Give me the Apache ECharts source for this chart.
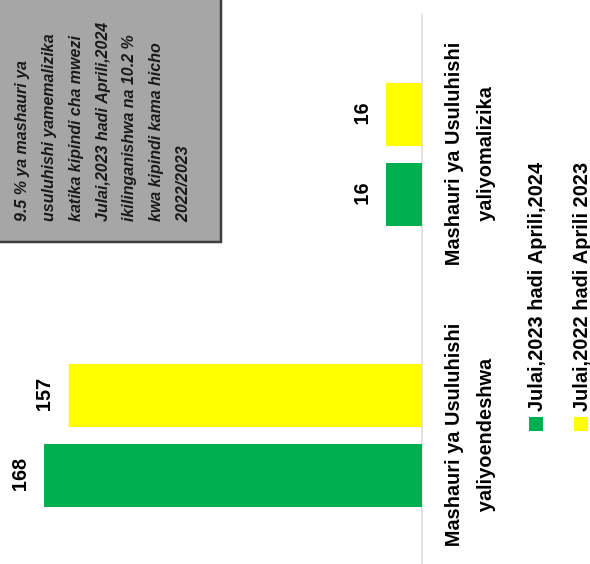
<!DOCTYPE html>
<html>
<head>
<meta charset="utf-8">
<script src="https://cdn.jsdelivr.net/npm/echarts@6/dist/echarts.min.js"></script>
<style>
html,body{margin:0;padding:0;background:#fff;overflow:hidden;width:590px;height:564px;}
#c{position:absolute;left:0;top:0;width:564px;height:590px;transform-origin:0 0;transform:translate(0,564px) rotate(-90deg);}
</style>
</head>
<body>
<div id="c"></div>
<script>
const categories = ["Mashauri ya Usuluhishi\nyaliyoendeshwa", "Mashauri ya Usuluhishi\nyaliyomalizika"];
const seriesNames = ["Julai,2023 hadi Aprili,2024", "Julai,2022 hadi Aprili 2023"];
const values2024 = [168, 16];
const values2023 = [157, 16];
const noteLines = [
  "9.5 % ya mashauri ya",
  "usuluhishi yamemalizika",
  "katika kipindi cha mwezi",
  "Julai,2023 hadi Aprili,2024",
  "ikilinganishwa na 10.2 %",
  "kwa kipindi kama hicho",
  "2022/2023"
];

const FONT = '"Liberation Sans", Arial, sans-serif';
const chart = echarts.init(document.getElementById('c'), null, {renderer: 'canvas'});
const labelStyle = {show: true, position: 'top', distance: 14, fontSize: 20, fontWeight: 'bold', color: '#000', fontFamily: FONT};
const legendText = {fontSize: 20, fontWeight: 'bold', color: '#000', fontFamily: FONT, lineHeight: 14};
chart.setOption({
  animation: false,
  backgroundColor: '#fff',
  grid: {left: -12, right: 14, top: 17, bottom: 168, containLabel: false, outerBoundsMode: 'none'},
  xAxis: {
    type: 'category',
    data: categories,
    axisLine: {show: true, lineStyle: {color: '#d9d9d9', width: 1.5}},
    axisTick: {show: false},
    axisLabel: {interval: 0, fontSize: 20, fontWeight: 'bold', color: '#000', fontFamily: FONT, lineHeight: 32, margin: 15}
  },
  yAxis: {type: 'value', min: 0, max: 180, show: false, splitLine: {show: false}},
  legend: [
    {left: 133, top: 526, itemWidth: 14, itemHeight: 14, icon: 'rect', padding: 0, textStyle: legendText, data: [seriesNames[0]]},
    {left: 133, top: 571, itemWidth: 14, itemHeight: 14, icon: 'rect', padding: 0, textStyle: legendText, data: [seriesNames[1]]}
  ],
  series: [
    {name: seriesNames[0], type: 'bar', data: values2024, barWidth: 63, barGap: '27%', itemStyle: {color: '#00b050'}, label: labelStyle},
    {name: seriesNames[1], type: 'bar', data: values2023, barWidth: 63, barGap: '27%', itemStyle: {color: '#ffff00'}, label: labelStyle}
  ],
  graphic: [
    {type: 'rect', shape: {x: 322, y: -5, width: 260, height: 226}, style: {fill: '#a6a6a6', stroke: '#404040', lineWidth: 2.5}, z: 10},
    {type: 'text', x: 342, y: 8.7, z: 11, style: {text: noteLines.join('\n'), font: 'italic bold 16px ' + FONT, fill: '#1a1a1a', lineHeight: 26.7, verticalAlign: 'top', align: 'left'}}
  ]
});
</script>
</body>
</html>
